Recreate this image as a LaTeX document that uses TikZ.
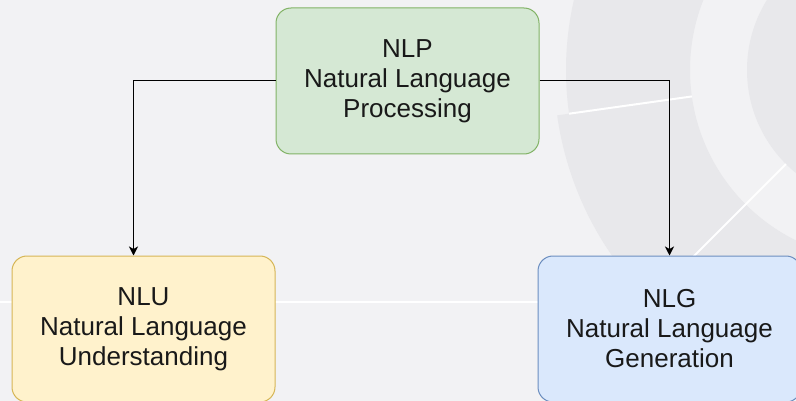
\documentclass[tikz,border=0pt]{standalone}
\usepackage{fontspec}
\setmainfont{Liberation Sans}
\usepackage{tikz}
\usetikzlibrary{arrows.meta}
\definecolor{bgcol}{HTML}{F2F2F4}
\definecolor{ringcol}{HTML}{E8E8EB}
\definecolor{nlpfill}{HTML}{D5E8D4}
\definecolor{nlpline}{HTML}{82B366}
\definecolor{nlufill}{HTML}{FFF2CC}
\definecolor{nluline}{HTML}{D6B656}
\definecolor{nlgfill}{HTML}{DAE8FC}
\definecolor{nlgline}{HTML}{6C8EBF}

\begin{document}
\begin{tikzpicture}[x=1pt, y=1pt]
\tikzstyle{main}=[rectangle, rounded corners=15pt, line width=1pt, minimum width=263pt, minimum height=146pt, node distance=248pt, align=center, font=\fontsize{26}{30}\selectfont, text=black!90]
\tikzstyle{proc}=[main, draw=nlpline, fill=nlpfill]
\tikzstyle{under}=[main, draw=nluline, fill=nlufill]
\tikzstyle{gen}=[main, draw=nlgline, fill=nlgfill]
\tikzstyle{connect}=[-{Stealth[length=9pt, width=9pt, inset=2.5pt]}, line width=1pt]
\tikzstyle{sep}=[white, line width=2pt]

  \useasboundingbox (0,0) rectangle (796,-401);
  \fill[bgcol] (0,0) rectangle (796,-401);

  % background ring
  \begin{scope}
  \clip (0,0) rectangle (796,-401);
  \begin{scope}[shift={(880,-70)}]
  \fill[ringcol] (150:314) arc[start angle=150, end angle=188, radius=314] -- (188:190) arc[start angle=188, end angle=150, radius=190] -- cycle;
  \fill[ringcol] (188:326) arc[start angle=188, end angle=270, radius=326] -- (270:190) arc[start angle=270, end angle=188, radius=190] -- cycle;
  \fill[ringcol] (0,0) circle (133);
  \draw[sep] (188:190) -- (188:314);
  \draw[sep] (225:133) -- (225:326);
  \end{scope}
  \draw[sep] (0,-302) -- (796,-302);
  \end{scope}

  \node[proc]  (nlp) at (407.5,-81)                {NLP\\Natural Language\\Processing};
  \node[under] (nlu) [below of =nlp, xshift=-264pt] {NLU\\Natural Language\\Understanding};
  \node[gen]   (nlg) [below of =nlp, xshift=262pt]  {NLG\\Natural Language\\Generation};

  \draw[connect] (nlp.west) -| ([xshift=-10pt]nlu.north);
  \draw[connect] (nlp.east) -| (nlg.north);

\end{tikzpicture}
\end{document}
